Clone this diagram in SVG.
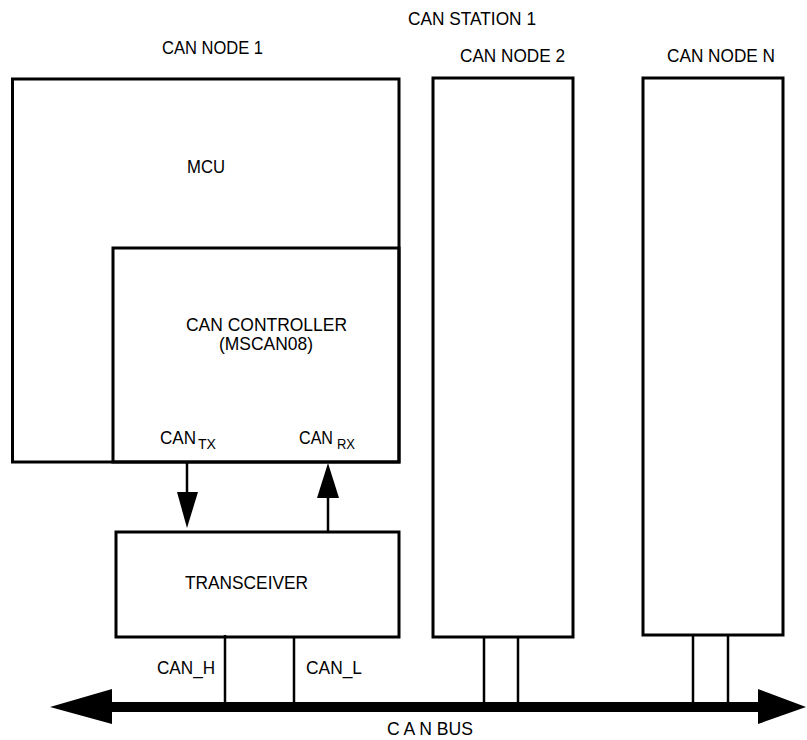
<svg xmlns="http://www.w3.org/2000/svg" width="807" height="740" viewBox="0 0 807 740">
<style>
text{font-family:"Liberation Sans",Arial,sans-serif;font-size:19px;fill:#000}
.sub{font-size:15px}
.box{fill:none;stroke:#000;stroke-width:3}
.wire{stroke:#000;stroke-width:2.5;fill:none}
</style>
<rect width="807" height="740" fill="#fff"/>
<text x="408" y="25" textLength="128" lengthAdjust="spacingAndGlyphs">CAN STATION 1</text>
<g id="node1">
<text x="162" y="54" textLength="101" lengthAdjust="spacingAndGlyphs">CAN NODE 1</text>
<rect class="box" x="12.5" y="79" width="386.5" height="383"/>
<text x="187" y="173" textLength="38" lengthAdjust="spacingAndGlyphs">MCU</text>
</g>
<g id="controller">
<rect class="box" x="113" y="248" width="286" height="214"/>
<text x="186" y="331" textLength="161" lengthAdjust="spacingAndGlyphs">CAN CONTROLLER</text>
<text x="219" y="350" textLength="94" lengthAdjust="spacingAndGlyphs">(MSCAN08)</text>
<text x="160" y="444" textLength="36" lengthAdjust="spacingAndGlyphs">CAN</text>
<text class="sub" x="198" y="449" textLength="18" lengthAdjust="spacingAndGlyphs">TX</text>
<text x="299" y="444" textLength="34" lengthAdjust="spacingAndGlyphs">CAN</text>
<text class="sub" x="337" y="449" textLength="18" lengthAdjust="spacingAndGlyphs">RX</text>
</g>
<g id="transceiver">
<rect class="box" x="116" y="532" width="283" height="105"/>
<text x="185" y="589" textLength="123" lengthAdjust="spacingAndGlyphs">TRANSCEIVER</text>
</g>
<g id="node2">
<text x="460" y="62" textLength="105" lengthAdjust="spacingAndGlyphs">CAN NODE 2</text>
<rect class="box" x="433" y="78" width="140" height="559"/>
</g>
<g id="nodeN">
<text x="667" y="62" textLength="108" lengthAdjust="spacingAndGlyphs">CAN NODE N</text>
<rect class="box" x="643" y="78" width="140" height="557"/>
</g>
<g id="connectors">
<line class="wire" x1="187" y1="462" x2="187" y2="494" stroke-width="3"/>
<polygon points="177,492 198,492 187,528"/>
<line class="wire" x1="328" y1="532" x2="328" y2="496" stroke-width="3"/>
<polygon points="317,498 339,498 328,463"/>
<line class="wire" x1="225" y1="635" x2="225" y2="704"/>
<line class="wire" x1="294" y1="637" x2="294" y2="704"/>
<line class="wire" x1="484" y1="637" x2="484" y2="704"/>
<line class="wire" x1="518" y1="637" x2="518" y2="704"/>
<line class="wire" x1="693" y1="635" x2="693" y2="704"/>
<line class="wire" x1="728" y1="635" x2="728" y2="704"/>
<g id="bus">
<rect x="110" y="702" width="650" height="10" fill="#000"/>
<polygon points="50,707 112,689 112,724"/>
<polygon points="758,689 758,724 806,707"/>
</g>
<text x="157" y="674" textLength="58" lengthAdjust="spacingAndGlyphs">CAN_H</text>
<text x="306" y="674" textLength="56" lengthAdjust="spacingAndGlyphs">CAN_L</text>
<text x="387" y="735" textLength="86" lengthAdjust="spacingAndGlyphs">C A N BUS</text>
</g>
</svg>
